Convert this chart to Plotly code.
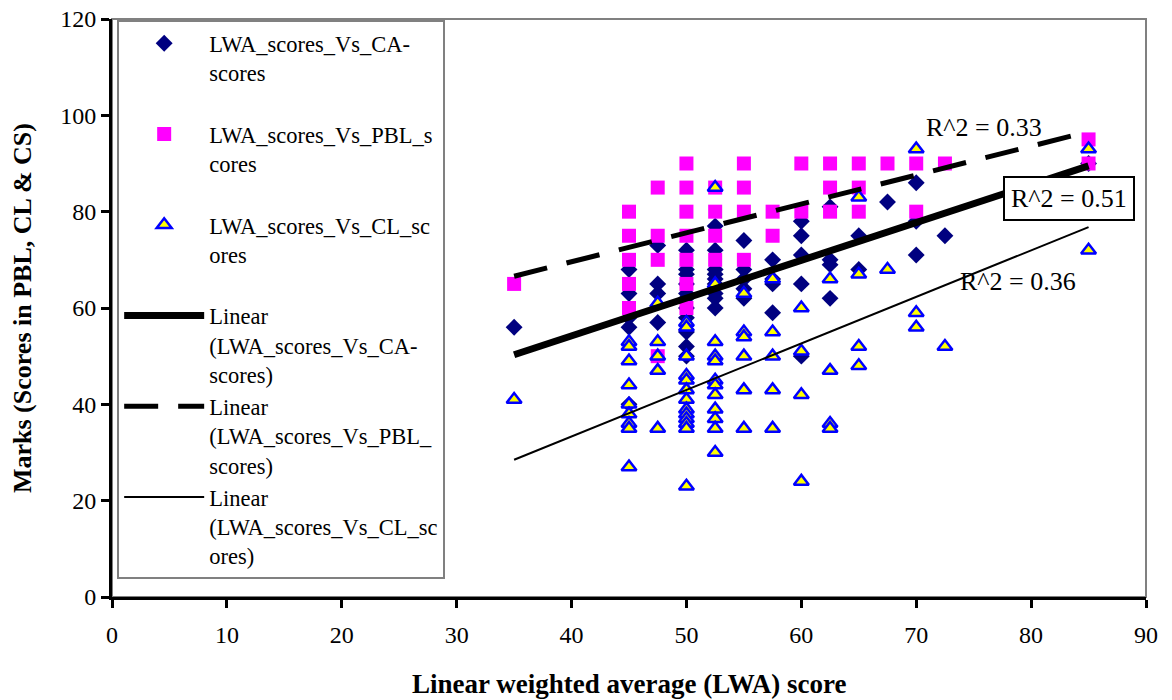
import plotly.graph_objects as go

# ---------------- data ----------------
lwa_ca = ([35] + [45]*5 + [47.5]*4 + [50]*11 + [52.5]*9 + [55]*5 + [57.5]*4 +
          [60]*5 + [62.5]*4 + [65]*2 + [67.5] + [70]*3 + [72.5] + [85])
ca_scores = ([56] + [68, 63, 58, 56, 40] + [73, 65, 63, 57] +
             [72, 68, 67, 65, 63, 62, 60, 58, 55, 52, 50] +
             [77, 72, 68, 67, 66, 65, 63, 62, 60] + [74, 68, 66, 64, 62] +
             [70, 66, 65, 59] + [78, 75, 71, 65, 50] + [81, 70, 69, 62] +
             [75, 68] + [82] + [86, 78, 71] + [75] + [90])

lwa_pbl = ([35] + [45]*5 + [47.5]*4 + [50]*7 + [52.5]*4 + [55]*4 + [57.5]*2 +
           [60]*2 + [62.5]*3 + [65]*3 + [67.5] + [70]*2 + [72.5] + [85]*2)
pbl_scores = ([65] + [80, 75, 70, 65, 60] + [85, 75, 70, 50] +
              [90, 85, 80, 75, 70, 65, 60] + [85, 80, 75, 70] + [90, 85, 80, 70] +
              [80, 75] + [90, 80] + [90, 85, 80] + [90, 85, 80] + [90] +
              [90, 80] + [90] + [95, 90])

lwa_cl = ([35] + [45]*9 + [47.5]*5 + [50]*13 + [52.5]*12 + [55]*6 + [57.5]*5 +
          [60]*4 + [62.5]*4 + [65]*4 + [67.5] + [70]*3 + [72.5] + [85]*2)
cl_scores = ([41] + [53, 52, 49, 44, 40, 38, 36, 35, 27] + [61, 53, 50, 47, 35] +
             [57, 56, 50, 46, 45, 43, 41, 39, 38, 37, 36, 35, 23] +
             [85, 65, 53, 50, 49, 45, 44, 42, 39, 37, 35, 30] +
             [63, 55, 54, 50, 43, 35] + [66, 55, 50, 43, 35] + [60, 51, 42, 24] +
             [66, 47, 36, 35] + [83, 67, 52, 48] + [68] + [93, 59, 56] + [52] + [93, 72])

# linear trend line end points
trend_x = [35, 85]
trend_ca = [50.3, 89.5]
trend_pbl = [66.6, 96.6]
trend_cl = [28.5, 76.8]

r2_labels = ["R^2 = 0.33", "R^2 = 0.51", "R^2 = 0.36"]
r2_pos_x = [75.9, 83.3, 78.9]
r2_pos_y = [97.5, 82.8, 65.4]

x_ticks = list(range(0, 91, 10))
y_ticks = list(range(0, 121, 20))

x_title = "Linear weighted average (LWA) score"
y_title = "Marks (Scores in PBL, CL & CS)"

FONT = "Liberation Serif"

fig = go.Figure()
fig.add_trace(go.Scatter(
    x=lwa_ca, y=ca_scores, mode="markers", name="LWA_scores_Vs_CA-<br>scores<br> ",
    marker=dict(symbol="diamond", size=13, color="#000080", line=dict(width=0))))
fig.add_trace(go.Scatter(
    x=lwa_pbl, y=pbl_scores, mode="markers", name="LWA_scores_Vs_PBL_s<br>cores<br> ",
    marker=dict(symbol="square", size=14, color="#FF00FF", line=dict(width=0))))
fig.add_trace(go.Scatter(
    x=lwa_cl, y=cl_scores, mode="markers", name="LWA_scores_Vs_CL_sc<br>ores<br> ",
    marker=dict(symbol="triangle-up", size=13, color="#FFFF00",
                line=dict(width=2.5, color="#0000FF"))))
fig.add_trace(go.Scatter(
    x=trend_x, y=trend_ca, mode="lines",
    name="Linear<br>(LWA_scores_Vs_CA-<br>scores)",
    line=dict(color="black", width=7)))
fig.add_trace(go.Scatter(
    x=trend_x, y=trend_pbl, mode="lines",
    name="Linear<br>(LWA_scores_Vs_PBL_<br>scores)",
    line=dict(color="black", width=5, dash="34px,20px")))
fig.add_trace(go.Scatter(
    x=trend_x, y=trend_cl, mode="lines",
    name="Linear<br>(LWA_scores_Vs_CL_sc<br>ores)",
    line=dict(color="black", width=2)))

for i, (t, xx, yy) in enumerate(zip(r2_labels, r2_pos_x, r2_pos_y)):
    boxed = (i == 1)
    fig.add_annotation(
        x=xx, y=yy, text=t, showarrow=False,
        font=dict(family=FONT, size=26, color="black"),
        bgcolor="white" if boxed else "rgba(0,0,0,0)",
        bordercolor="black" if boxed else "rgba(0,0,0,0)",
        borderwidth=2 if boxed else 0, borderpad=6)

# axis titles
fig.add_annotation(
    xref="paper", yref="paper", x=0.5, y=-0.1505, xanchor="center", yanchor="middle",
    text="<b>" + x_title + "</b>", showarrow=False,
    font=dict(family=FONT, size=27, color="black"))
fig.add_annotation(
    xref="paper", yref="paper", x=-0.087, y=0.5, xanchor="center", yanchor="middle",
    text="<b>" + y_title + "</b>", showarrow=False, textangle=-90,
    font=dict(family=FONT, size=26, color="black"))

# gray plot-area frame
fig.add_shape(type="rect", xref="x domain", yref="y domain", x0=0, x1=1, y0=0, y1=1,
              line=dict(color="#808080", width=2), layer="below")

fig.update_xaxes(
    range=[0, 90], tickvals=x_ticks, ticks="outside", ticklen=8, tickwidth=3,
    tickcolor="black", showline=True, linecolor="black", linewidth=3,
    showgrid=False, zeroline=False, automargin=False, ticklabelstandoff=6,
    tickfont=dict(family=FONT, size=24, color="black"))
fig.update_yaxes(
    range=[0, 120], tickvals=y_ticks, ticks="outside", ticklen=8, tickwidth=3,
    tickcolor="black", showline=True, linecolor="black", linewidth=3,
    showgrid=False, zeroline=False, automargin=False,
    tickfont=dict(family=FONT, size=24, color="black"))

fig.update_layout(
    width=1172, height=700,
    margin=dict(l=112, r=26, t=19, b=103),
    plot_bgcolor="white", paper_bgcolor="white",
    font=dict(family=FONT, size=24, color="black"),
    legend=dict(x=0.005, y=0.998, xanchor="left", yanchor="top",
                bgcolor="white", bordercolor="#808080", borderwidth=2,
                font=dict(family=FONT, size=22.5, color="black"),
                valign="top", itemwidth=80, traceorder="normal", tracegroupgap=0,
                maxheight=1000),
)

fig.write_html("out.html")
